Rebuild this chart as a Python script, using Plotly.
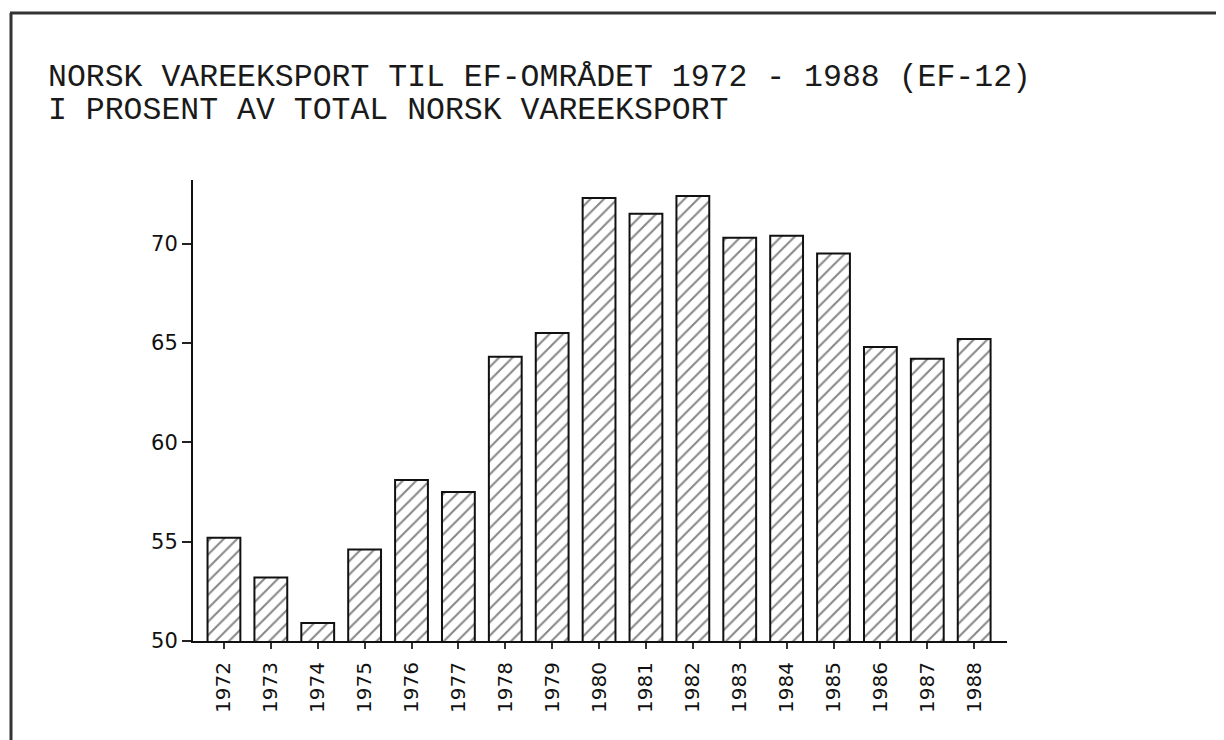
import plotly.graph_objects as go

years = ["1972", "1973", "1974", "1975", "1976", "1977", "1978", "1979", "1980",
         "1981", "1982", "1983", "1984", "1985", "1986", "1987", "1988"]
share = [55.2, 53.2, 50.9, 54.6, 58.1, 57.5, 64.3, 65.5, 72.3,
         71.5, 72.4, 70.3, 70.4, 69.5, 64.8, 64.2, 65.2]
y_ticks = [50, 55, 60, 65, 70]
title_1 = "NORSK VAREEKSPORT TIL EF-OMRÅDET 1972 - 1988 (EF-12)"
title_2 = "I PROSENT AV TOTAL NORSK VAREEKSPORT"

# the page body has an 8px margin, so the figure is laid out 8px smaller
W, H = 1216, 732
L, T = 185, 172          # plot area left / top in figure pixels
PW, PH = 814, 461        # plot area size
R = W - L - PW
B = H - T - PH


def px(x):
    return (x - L) / PW


def py(y):
    return (T + PH - y) / PH


fig = go.Figure()
fig.add_trace(go.Bar(
    x=years, y=share, width=0.7,
    marker=dict(color="white",
                line=dict(color="#111111", width=2),
                pattern=dict(shape="/", fgcolor="#111111", bgcolor="white",
                             size=9.5, solidity=0.22)),
    showlegend=False,
))

fig.update_layout(
    width=W, height=H,
    margin=dict(l=L, r=R, t=T, b=B),
    paper_bgcolor="white", plot_bgcolor="white",
    font=dict(family="DejaVu Sans", color="#111111"),
)
fig.update_xaxes(
    type="category", range=[-0.66, 16.7],
    showline=True, linecolor="#111111", linewidth=2,
    ticks="outside", ticklen=6, tickwidth=1.5, tickcolor="#333333",
    tickangle=-90, tickfont=dict(size=20, family="DejaVu Sans"),
    ticklabelstandoff=5,
    showgrid=False, zeroline=False,
)
fig.update_yaxes(
    range=[50, 73.2], tickvals=y_ticks,
    showline=True, linecolor="#111111", linewidth=2,
    ticks="outside", ticklen=9, tickwidth=1.5, tickcolor="#222222",
    tickfont=dict(size=21, family="DejaVu Sans"),
    showgrid=False, zeroline=False,
)

fig.add_annotation(text=title_1, xref="paper", yref="paper",
                   x=px(38), y=py(70), xanchor="left", yanchor="middle",
                   showarrow=False,
                   font=dict(family="Liberation Mono", size=31.5, color="#1a1a1a"))
fig.add_annotation(text=title_2, xref="paper", yref="paper",
                   x=px(38), y=py(102.5), xanchor="left", yanchor="middle",
                   showarrow=False,
                   font=dict(family="Liberation Mono", size=31.5, color="#1a1a1a"))

# page frame of the scanned figure
fig.add_shape(type="line", xref="paper", yref="paper",
              x0=px(3), x1=px(3), y0=py(5), y1=py(H),
              line=dict(color="#333333", width=3))
fig.add_shape(type="line", xref="paper", yref="paper",
              x0=px(2), x1=px(W), y0=py(5), y1=py(5),
              line=dict(color="#333333", width=3))

fig.write_html("out.html")
